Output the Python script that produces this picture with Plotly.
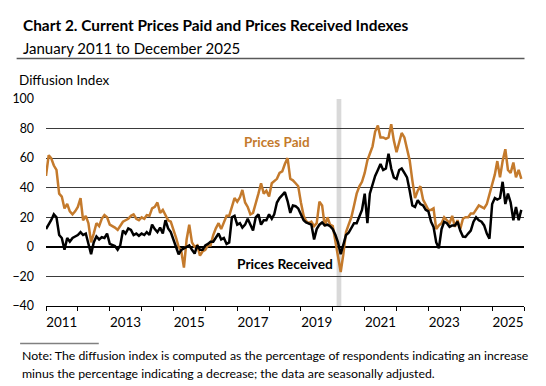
import plotly.graph_objects as go
import pandas as pd

# ---------------- data ----------------
months = pd.date_range("2011-01-01", "2025-12-01", freq="MS")

prices_paid = [
    48, 62, 60, 55, 52, 36, 34, 26, 29, 24, 22, 24,          # 2011
    27, 33, 18, 21, 16, 3, 9, 16, 14, 19, 21.5, 20,          # 2012
    15, 14, 13, 11.5, 14, 17, 18, 19, 21, 22, 19, 18,        # 2013
    20, 19, 21.5, 21, 26, 27, 30, 23, 25, 21.5, 18, 17,      # 2014
    12, 6, 0, -3, -14, 5, 15, 3, 0, 1, -6, -3,               # 2015
    -2, 1, 1, 8, 12.5, 16, 12, 16, 21, 21, 28, 33,           # 2016
    30.5, 33.5, 38.5, 30, 27, 22, 23, 29, 36, 43, 36, 38,    # 2017
    34, 43, 44.5, 46, 50, 51, 56, 60, 46, 45, 43, 41,        # 2018
    30, 21, 17.5, 16, 17, 14, 16, 30.5, 28, 14, 20, 15,      # 2019
    14, 4, -7, -17, -5, 10, 15, 20, 28, 36, 41, 44,          # 2020
    50, 58.5, 63, 68, 78, 82, 74, 74, 73, 74, 83, 72,        # 2021
    64, 72, 77, 74, 66, 58.5, 45, 33, 38, 41, 32, 29,        # 2022
    25, 25, 26, 12, 14.5, 16, 20, 18, 16, 21, 13.5, 18,      # 2023
    12, 19, 20, 20, 22.5, 22.5, 25, 28, 27, 26, 29, 36,      # 2024
    42, 49, 58, 47, 58, 66, 52, 50, 57, 47, 52, 46,          # 2025
]

prices_received = [
    12, 15, 18, 22, 20, 8, 6, -2, 6, 3.5, 6, 7,              # 2011
    8, 10, 8, 9, 2.5, -5, 3, 7, 5, 6.5, 6, 9,                # 2012
    2, 1, 0.5, -2, 1, 11, 9, 12.5, 11.5, 8, 9, 7.5,          # 2013
    9, 8, 10, 8, 15, 12, 10, 13, 9, 18, 12.5, 10,            # 2014
    5, 0, -5, -2, -1, 0, 1, -2, -4.5, 1, -2, -2,             # 2015
    1, 2, 3.5, 3.5, 6, 9, 5, 6, 2, 3, 20, 21,                # 2016
    15, 16, 13, 15, 19, 15, 11, 20, 22, 15, 18, 18,          # 2017
    22, 19, 22, 30, 33, 35, 37, 31, 23, 28, 27.5, 26,        # 2018
    22, 18, 16.5, 15.5, 15, 5, 12, 15, 16.5, 14.5, 15, 14,   # 2019
    12, 8, 3, -5, 1, 8, 9.5, 13, 16, 16, 20, 25,             # 2020
    36, 16, 36, 42, 48, 52, 56, 52, 53, 63, 53, 47,          # 2021
    46, 52, 53, 50, 47, 38, 28, 27, 31.5, 29, 28, 25,        # 2022
    24, 17, 13.5, 3, -1, 12, 17, 16, 13.5, 14.5, 14.5, 17,   # 2023
    11, 7, 6.7, 9, 11, 17, 20, 18, 17, 14.5, 9, 5.5,         # 2024
    29, 33, 32, 33, 44, 29, 36, 30, 18, 27, 18, 25,          # 2025
]

years = list(range(2011, 2027))
year_labels = ["2011", "2013", "2015", "2017", "2019", "2021", "2023", "2025"]
y_ticks = [100, 80, 60, 40, 20, 0, -20, -40]
x_start, x_end = "2011-01-01", "2026-01-01"
recession_start = "2020-02-14"
recession_end = "2020-04-08"

# ---------------- styling ----------------
ORANGE = "#C47A2C"
FONT = "Lato"
W, H = 546, 386
ML, MR, MT, MB = 44, 22, 99, 80
PW, PH = W - ML - MR, H - MT - MB


def px(x):
    return (x - ML) / PW


def py(y):
    return (H - MB - y) / PH


fig = go.Figure()

fig.add_trace(go.Scatter(x=months, y=prices_paid, mode="lines",
                         line=dict(color=ORANGE, width=2.5),
                         hoverinfo="skip", name="Prices Paid"))
fig.add_trace(go.Scatter(x=months, y=prices_received, mode="lines",
                         line=dict(color="black", width=2.5),
                         hoverinfo="skip", name="Prices Received"))
# same series bound to the label axis (invisible) so that axis is drawn
fig.add_trace(go.Scatter(x=months, y=prices_received, mode="lines",
                         line=dict(width=0), opacity=0,
                         hoverinfo="skip", showlegend=False, xaxis="x2"))

annotations = [
    dict(text="<b>Chart 2. Current Prices Paid and Prices Received Indexes</b>",
         x=px(19), y=py(25), xanchor="left", yanchor="middle",
         font=dict(size=15.4, color="black", family=FONT)),
    dict(text="January 2011 to December 2025",
         x=px(19), y=py(47.8), xanchor="left", yanchor="middle",
         font=dict(size=15, color="black", family=FONT)),
    dict(text="Diffusion Index",
         x=px(14.5), y=py(79.6), xanchor="left", yanchor="middle",
         font=dict(size=13.5, color="black", family=FONT)),
    dict(text="<b>Prices Paid</b>",
         x=px(276), y=py(142), xanchor="center", yanchor="middle",
         font=dict(size=13.5, color=ORANGE, family=FONT)),
    dict(text="<b>Prices Received</b>",
         x=px(284), y=py(263.5), xanchor="center", yanchor="middle",
         font=dict(size=13.8, color="black", family=FONT)),
    dict(text="Note: The diffusion index is computed as the percentage of respondents indicating an increase",
         x=px(18), y=py(355), xanchor="left", yanchor="middle",
         font=dict(size=12.3, color="black", family=FONT)),
    dict(text="minus the percentage indicating a decrease; the data are seasonally adjusted.",
         x=px(18), y=py(373), xanchor="left", yanchor="middle",
         font=dict(size=12.3, color="black", family=FONT)),
]
for a in annotations:
    a.update(xref="paper", yref="paper", showarrow=False)

shapes = [
    dict(type="rect", xref="x", yref="paper",
         x0=recession_start, x1=recession_end, y0=0, y1=1,
         fillcolor="#D9D9D9", line=dict(width=0), layer="below"),
    dict(type="line", xref="paper", yref="paper",
         x0=px(14.5), x1=px(524.5), y0=py(58.6), y1=py(58.6),
         line=dict(color="#595959", width=1.5)),
    dict(type="line", xref="paper", yref="paper",
         x0=px(18), x1=px(97), y0=py(343.6), y1=py(343.6),
         line=dict(color="#808080", width=1.5)),
]

fig.update_layout(
    width=W, height=H,
    margin=dict(l=ML, r=MR, t=MT, b=MB),
    paper_bgcolor="white", plot_bgcolor="white",
    showlegend=False,
    font=dict(family=FONT, color="black", size=12),
    annotations=annotations,
    shapes=shapes,
    # tick marks at year boundaries
    xaxis=dict(
        type="date",
        range=[x_start, x_end],
        tickmode="linear",
        tick0=x_start,
        dtick="M12",
        showticklabels=False,
        ticks="outside", ticklen=4, tickcolor="black", tickwidth=1,
        showgrid=False,
        zeroline=False,
        showline=True, linecolor="black", linewidth=1,
        fixedrange=True,
    ),
    # year labels at mid-year, every other year
    xaxis2=dict(
        type="date",
        overlaying="x",
        anchor="y",
        side="bottom",
        range=[x_start, x_end],
        tickmode="array",
        tickvals=[f"{y}-07-01" for y in year_labels],
        ticktext=year_labels,
        ticks="",
        showgrid=False, zeroline=False, showline=False,
        tickfont=dict(size=13.4, family=FONT, color="black"),
        ticklabelstandoff=7,
        fixedrange=True,
    ),
    yaxis=dict(
        range=[-40, 100],
        tickmode="array",
        tickvals=y_ticks,
        ticks="",
        showgrid=True, gridcolor="#3a3a3a", gridwidth=1,
        zeroline=True, zerolinecolor="black", zerolinewidth=1.5,
        showline=False,
        tickfont=dict(size=12.4, family=FONT, color="black"),
        ticklabelstandoff=11,
        fixedrange=True,
    ),
)

fig.write_html("out.html", config={"displayModeBar": False},
               post_script="document.body.style.margin='0';")
